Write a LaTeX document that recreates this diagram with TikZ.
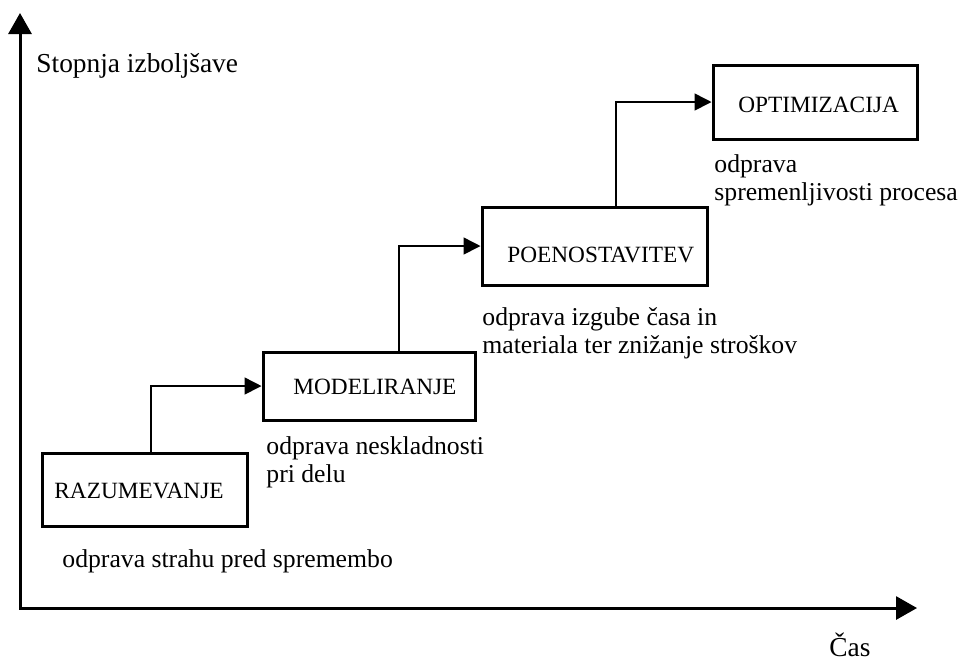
\documentclass[tikz,border=0pt]{standalone}
\usepackage{fontspec}
\setmainfont{Liberation Serif}
\usetikzlibrary{arrows.meta}
\begin{document}
\begin{tikzpicture}[x=0.5pt,y=-0.5pt,
  stagebox/.style 2 args={draw, line width=1.5pt, line join=miter,
    minimum width=#1, minimum height=#2, inner sep=0pt},
  boxtext/.style={anchor=base west, inner sep=0pt,
    font=\fontsize{11.65}{14}\selectfont},
  note/.style={anchor=base west, inner sep=0pt, align=left,
    font=\fontsize{12.85}{14}\selectfont},
  axislabel/.style={anchor=base west, inner sep=0pt,
    font=\fontsize{13.7}{15}\selectfont},
  axis/.style={line width=1.5pt, line join=miter,
    {Triangle[length=10.5pt,width=11.5pt]}-{Triangle[length=10.5pt,width=11.5pt]}},
  conn/.style={line width=0.75pt, -{Triangle[length=8.5pt,width=8.5pt]}}]
\useasboundingbox (0,0) rectangle (961,661);

% axes
\coordinate (origin) at (20,608);
\coordinate (ytip) at (20,13);
\coordinate (xtip) at (917,608);
\draw[axis] (ytip) -- (origin) -- (xtip);
\node[axislabel] (ylab) at (36,72) {Stopnja izboljšave};
\node[axislabel] (xlab) at (829,656) {Čas};

% stages
\node[stagebox={102.5pt}{36.5pt}] (raz)  at (144.5,489.5) {};
\node[stagebox={106pt}{34pt}]     (mod)  at (369,386) {};
\node[stagebox={112.5pt}{39pt}]   (poen) at (594.5,246) {};
\node[stagebox={102pt}{37pt}]     (opt)  at (815,102) {};

\node[boxtext] (razt)  at (54,498)  {RAZUMEVANJE};
\node[boxtext] (modt)  at (293,394) {MODELIRANJE};
\node[boxtext] (poent) at (507,262) {POENOSTAVITEV};
\node[boxtext] (optt)  at (738,112) {OPTIMIZACIJA};

% step connectors
\draw[conn] ([xshift=3.25pt]raz.north) |- (mod.west);
\draw[conn] ([xshift=15pt]mod.north) |- (poen.west);
\draw[conn] ([xshift=10.75pt]poen.north) |- (opt.west);

% notes under the stages (anchored on the last line's baseline)
\node[note] (razn)  at (62,567)  {odprava strahu pred spremembo};
\node[note] (modn)  at (266,482) {odprava neskladnosti\\pri delu};
\node[note] (poenn) at (482,353) {odprava izgube časa in\\materiala ter znižanje stroškov};
\node[note] (optn)  at (714,200) {odprava\\spremenljivosti procesa};
\end{tikzpicture}
\end{document}
